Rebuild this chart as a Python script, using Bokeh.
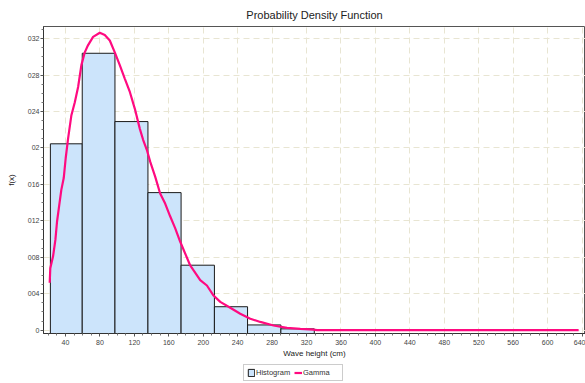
from bokeh.plotting import figure
from bokeh.layouts import column
from bokeh.models import Range1d, FixedTicker, Legend, LegendItem, ColumnDataSource
from bokeh.embed import file_html
from bokeh.resources import INLINE

# ---- data ----
bin_left = [22.5, 59.5, 97.5, 135.8, 174.3, 213.0, 251.5, 290.2]
bin_right = [59.5, 97.5, 135.8, 174.3, 213.0, 251.5, 290.2, 329.0]
density = [0.2046, 0.304, 0.229, 0.151, 0.0713, 0.0257, 0.0057, 0.0014]

gamma_x = [21.7, 22.4, 25.6, 28.3, 30.2, 32.6, 35.2, 38.0, 40.3, 43.0, 46.9, 50.8,
           54.7, 58.5, 62.4, 66.3, 72.1, 79.9, 85.7, 91.5, 97.3, 103.1, 109.0, 114.8,
           120.6, 126.4, 130.2, 134.5, 138.4, 144.2, 150.0, 155.8, 161.6, 167.4, 173.3,
           184.9, 196.5, 204.3, 212.0, 219.8, 231.4, 243.0, 254.7, 266.3, 281.7, 297.3,
           312.8, 328.0, 332.2, 400.0, 500.0, 636.0]
gamma_y = [0.052, 0.068, 0.081, 0.099, 0.119, 0.136, 0.154, 0.167, 0.189, 0.210, 0.236, 0.250,
           0.267, 0.291, 0.305, 0.313, 0.322, 0.3265, 0.324, 0.318, 0.305, 0.291, 0.276, 0.2615,
           0.243, 0.221, 0.209, 0.198, 0.185, 0.1685, 0.150, 0.139, 0.125, 0.112, 0.097,
           0.071, 0.055, 0.049, 0.038, 0.031, 0.0245, 0.018, 0.0125, 0.009, 0.0051, 0.0024,
           0.0013, 0.0005, 0.0, 0.0, 0.0, 0.0]

x_ticks = [40, 80, 120, 160, 200, 240, 280, 320, 360, 400, 440, 480, 520, 560, 600, 640]
y_ticks = [0.0, 0.04, 0.08, 0.12, 0.16, 0.20, 0.24, 0.28, 0.32]
y_tick_labels = ["0", "004", "008", "012", "016", "02", "024", "028", "032"]

series_names = ["Histogram", "Gamma"]
title_text = "Probability Density Function"
x_label = "Wave height (cm)"
y_label = "f(x)"

# ---- styles ----
Y_START = -0.0037
FONT = "Liberation Sans"
BAR_FILL = "#cce4fb"
BAR_LINE = "#1a1a1a"
CURVE = "#ff0a80"

p = figure(width=585, height=360, output_backend="svg", toolbar_location=None,
           x_range=Range1d(14.5, 644), y_range=Range1d(Y_START, 0.3334),
           min_border_left=43, min_border_right=0, min_border_top=26, min_border_bottom=26)
p.background_fill_color = "white"
p.border_fill_color = "white"
p.outline_line_color = "#555555"
p.outline_line_width = 1

p.title.text = title_text
p.title.align = "center"
p.title.offset = -15
p.title.text_font = FONT
p.title.text_font_size = "11px"
p.title.text_font_style = "normal"
p.title.text_color = "#222222"
p.title.standoff = 11

src = ColumnDataSource(dict(left=bin_left, right=bin_right, top=density))
p.quad(left="left", right="right", top="top", bottom=Y_START, source=src,
       fill_color=BAR_FILL, line_color=BAR_LINE, line_width=1)
p.line(gamma_x, gamma_y, line_color=CURVE, line_width=2.2)

x_minor = [v for v in range(10, 650, 10) if v % 40 != 0]
y_minor = [i / 100 for i in range(0, 34) if i % 4 != 0]
p.xaxis.ticker = FixedTicker(ticks=x_ticks, minor_ticks=x_minor)
p.yaxis.ticker = FixedTicker(ticks=y_ticks, minor_ticks=y_minor)
p.yaxis.major_label_overrides = {t: l for t, l in zip(y_ticks, y_tick_labels)}

for ax in (p.xaxis, p.yaxis):
    ax.axis_line_color = "#333333"
    ax.axis_line_width = 1
    ax.major_tick_out = 3
    ax.major_tick_in = 0
    ax.minor_tick_out = 2
    ax.minor_tick_in = 0
    ax.major_tick_line_color = "#555555"
    ax.minor_tick_line_color = "#777777"
    ax.major_label_text_font = FONT
    ax.major_label_text_font_size = "7px"
    ax.major_label_text_color = "#444444"
    ax.axis_label_text_font = FONT
    ax.axis_label_text_font_size = "8px"
    ax.axis_label_text_font_style = "normal"
    ax.axis_label_text_color = "#222222"

p.xaxis.axis_label = x_label
p.yaxis.axis_label = y_label
p.xaxis.major_label_standoff = 3
p.xaxis.axis_label_standoff = 1
p.yaxis.major_label_standoff = 1
p.yaxis.axis_label_standoff = 9

for g in (p.xgrid, p.ygrid):
    g.grid_line_color = "#e8e5d2"
    g.grid_line_dash = "6 4"
    g.grid_line_width = 1

# ---- legend strip below the chart (its renderers hold the same data, out of view) ----
lf = figure(width=585, height=23, output_backend="svg", toolbar_location=None,
            x_range=Range1d(0, 585), y_range=Range1d(10, 33),
            x_axis_type=None, y_axis_type=None,
            min_border_left=0, min_border_right=0, min_border_top=0, min_border_bottom=0)
lf.outline_line_color = None
lf.xgrid.visible = False
lf.ygrid.visible = False
lf.background_fill_color = "white"
lf.border_fill_color = "white"
leg_bar = lf.quad(left="left", right="right", top="top", bottom=Y_START, source=src,
                  fill_color=BAR_FILL, line_color=BAR_LINE, line_width=1)
leg_line = lf.line(gamma_x, gamma_y, line_color=CURVE, line_width=2.2)

legend = Legend(items=[LegendItem(label=series_names[0], renderers=[leg_bar]),
                       LegendItem(label=series_names[1], renderers=[leg_line])],
                location=(200, 2), orientation="horizontal")
legend.label_text_font = FONT
legend.label_text_font_size = "7.5px"
legend.label_text_color = "#333333"
legend.glyph_width = 8
legend.glyph_height = 9
legend.label_standoff = 1
legend.label_width = 36
legend.spacing = 2
legend.padding = 3
legend.margin = 0
legend.border_line_color = "#999999"
legend.border_line_width = 1
legend.background_fill_alpha = 1
lf.add_layout(legend, "center")

layout = column(p, lf, spacing=0)
open("out.html", "w").write(file_html(layout, INLINE))
